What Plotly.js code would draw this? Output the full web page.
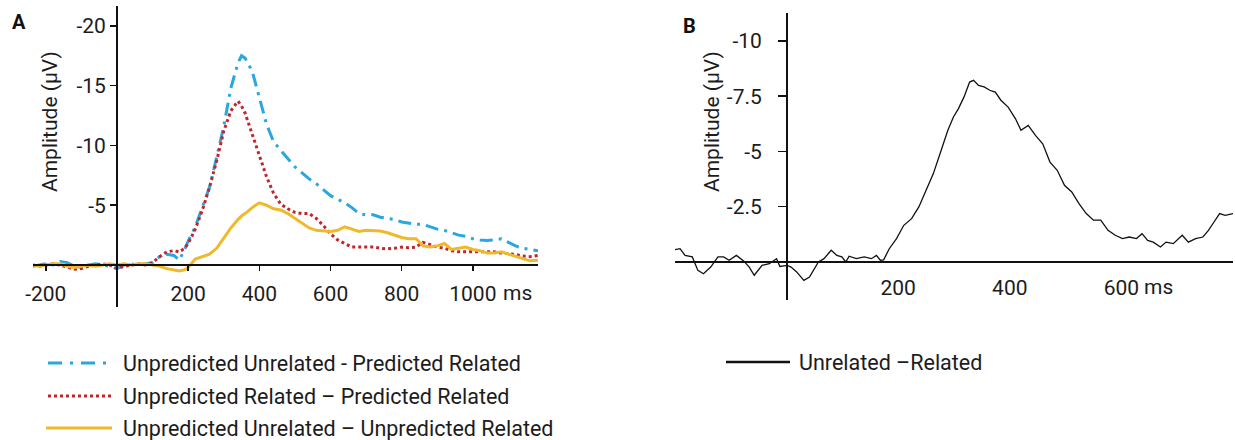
<!DOCTYPE html>
<html>
<head>
<meta charset="utf-8">
<script src="https://cdn.plot.ly/plotly-3.0.1.min.js"></script>
<style>html,body{margin:0;padding:0;background:#fff;}#chart{width:1235px;height:440px;}</style>
</head>
<body>
<div id="chart"></div>
<script>
// ---------- Panel A data (time in ms, amplitude in µV) ----------
const timeA = [-236,-220,-200,-180,-160,-140,-120,-100,-80,-60,-40,-20,0,20,40,60,80,100,120,140,160,175,190,200,220,240,260,280,300,320,340,350,360,380,400,420,440,460,480,500,520,540,560,580,600,620,640,660,680,700,720,740,760,780,800,820,840,860,880,900,920,940,960,980,1000,1020,1040,1060,1080,1100,1120,1140,1160,1183];
const unrelMinusPredRel = [0.1,0.0,-0.1,0.0,-0.3,-0.2,0.1,0.2,0.0,-0.1,0.0,0.1,0.3,0.0,-0.1,0.0,-0.1,-0.2,-0.7,-0.9,-0.8,-0.4,-1.3,-2.0,-3.2,-4.8,-6.5,-9.0,-11.6,-14.8,-16.9,-17.5,-17.3,-16.2,-14.1,-11.8,-10.3,-9.6,-8.9,-8.2,-7.7,-7.2,-6.8,-6.3,-5.8,-5.5,-5.2,-4.8,-4.3,-4.2,-4.2,-4.0,-3.9,-3.8,-3.6,-3.5,-3.4,-3.4,-3.2,-3.0,-2.9,-2.7,-2.5,-2.4,-2.2,-2.1,-2.05,-2.1,-2.2,-1.9,-1.6,-1.4,-1.3,-1.2];
const relMinusPredRel = [0.0,0.1,0.0,-0.1,0.0,0.2,0.35,0.3,0.1,0.0,-0.1,0.0,0.3,0.1,0.0,-0.1,0.0,-0.2,-0.7,-1.1,-1.2,-1.1,-1.4,-1.8,-3.0,-4.6,-6.5,-8.7,-11.2,-12.9,-13.7,-13.3,-12.7,-10.9,-9.1,-7.4,-6.0,-5.1,-4.7,-4.4,-4.3,-4.3,-3.9,-3.3,-2.6,-2.1,-1.8,-1.5,-1.5,-1.5,-1.5,-1.4,-1.35,-1.4,-1.5,-1.45,-1.5,-1.9,-1.7,-1.5,-1.4,-1.2,-1.1,-1.1,-1.1,-1.05,-1.1,-1.1,-1.0,-0.95,-0.9,-0.75,-0.7,-0.8];
const unrelMinusUnpRel = [0.0,0.1,0.0,-0.1,-0.1,0.1,0.2,0.1,0.0,0.1,0.0,-0.1,0.0,-0.1,0.0,-0.1,-0.1,0.0,0.1,0.3,0.45,0.5,0.4,0.2,-0.5,-0.7,-0.9,-1.4,-2.3,-3.1,-3.8,-4.1,-4.3,-4.8,-5.2,-5.0,-4.7,-4.6,-4.3,-3.9,-3.5,-3.1,-2.9,-2.85,-2.8,-2.9,-3.2,-3.0,-2.8,-2.9,-2.9,-2.85,-2.7,-2.5,-2.3,-2.2,-2.2,-1.6,-1.5,-1.6,-1.8,-1.3,-1.4,-1.5,-1.3,-1.2,-1.0,-1.0,-1.1,-0.9,-0.7,-0.5,-0.35,-0.4];
const namesA = ["Unpredicted Unrelated - Predicted Related","Unpredicted Related \u2013 Predicted Related","Unpredicted Unrelated \u2013 Unpredicted Related"];
const xTickValsA = [-200,200,400,600,800,1000];
const xTickTextA = ["-200","200","400","600","800","1000"];
const yTickValsA = [-20,-15,-10,-5];
const yTickTextA = ["-20","-15","-10","-5"];

// ---------- Panel B data ----------
const timeB = [-200,-191,-182,-169,-159,-149,-136,-123,-113,-103,-90,-77,-67,-58,-44,-31,-18,-12,1,8,18,31,41,57,67,80,90,99,106,112,125,139,152,161,168,174,184,197,210,224,237,250,263,276,289,299,308,318,328,335,344,354,364,374,384,397,410,420,433,446,459,472,485,498,511,524,537,550,563,576,589,602,614,627,637,647,657,670,680,693,709,720,733,746,756,766,776,786,800];
const unrelMinusRel = [-0.56,-0.6,-0.3,-0.23,0.38,0.53,0.23,-0.23,-0.23,-0.08,-0.3,-0.05,0.23,0.6,0.15,0.08,-0.15,0.2,0.15,0.23,0.45,0.83,0.68,0,-0.15,-0.53,-0.3,-0.23,0,-0.26,-0.15,-0.23,-0.15,-0.3,-0.08,-0.1,-0.6,-1.06,-1.66,-1.96,-2.49,-3.24,-4.0,-4.98,-5.96,-6.56,-6.94,-7.47,-8.14,-8.22,-7.99,-7.92,-7.77,-7.69,-7.32,-7.01,-6.49,-5.96,-6.18,-5.73,-5.35,-4.52,-4.15,-3.47,-3.17,-2.64,-2.19,-1.89,-1.89,-1.43,-1.21,-1.06,-1.13,-1.06,-1.28,-0.98,-0.9,-0.68,-0.9,-0.83,-1.21,-0.9,-1.06,-1.13,-1.43,-1.81,-2.19,-2.11,-2.19];
const nameB = "Unrelated \u2013Related";
const xTickValsB = [200,400,600];
const xTickTextB = ["200","400","600"];
const yTickValsB = [-10,-7.5,-5,-2.5];
const yTickTextB = ["-10","-7.5","-5","-2.5"];

// ---------- styling ----------
const W = 1235, H = 440;
const px = v => v / W;
const py = v => 1 - v / H;
const BLUE = '#29a7df', RED = '#c0262d', GOLD = '#efb92b', INK = '#1c1c1c';
const FONT = 'Roboto, "Open Sans", sans-serif';
const blueDash = '13px,6px,3px,6px';

const traces = [
  {x: timeA, y: unrelMinusPredRel, name: namesA[0], type: 'scatter', mode: 'lines', xaxis: 'x', yaxis: 'y', line: {color: BLUE, width: 3, dash: blueDash}},
  {x: timeA, y: relMinusPredRel, name: namesA[1], type: 'scatter', mode: 'lines', xaxis: 'x', yaxis: 'y', line: {color: RED, width: 3, dash: 'dot'}},
  {x: timeA, y: unrelMinusUnpRel, name: namesA[2], type: 'scatter', mode: 'lines', xaxis: 'x', yaxis: 'y', line: {color: GOLD, width: 3}},
  {x: timeB, y: unrelMinusRel, name: nameB, type: 'scatter', mode: 'lines', xaxis: 'x2', yaxis: 'y2', line: {color: '#111', width: 1.3}}
];

const axBase = {showgrid: false, zeroline: false, showline: true, linecolor: '#111', linewidth: 2,
  tickcolor: '#111', tickwidth: 1.5, tickfont: {family: FONT, size: 21, color: INK}, anchor: 'free', fixedrange: true};

function note(text, x, y, extra) {
  return Object.assign({text: text, x: px(x), y: py(y), xref: 'paper', yref: 'paper', showarrow: false,
    xanchor: 'center', yanchor: 'middle'}, extra || {});
}

const layout = {
  width: W, height: H, margin: {l: 0, r: 0, t: 0, b: 0},
  paper_bgcolor: '#ffffff', plot_bgcolor: 'rgba(0,0,0,0)', showlegend: false,
  font: {family: FONT, size: 21, color: INK},
  xaxis: Object.assign({}, axBase, {domain: [px(33), px(538)], range: [-236, 1183], position: py(265),
    ticks: 'outside', ticklen: 5, ticklabelstandoff: 5, tickvals: xTickValsA, ticktext: xTickTextA}),
  yaxis: Object.assign({}, axBase, {domain: [py(307), py(6)], range: [3.51, -21.66], position: px(117),
    ticks: 'outside', ticklen: 6, tickvals: yTickValsA, ticktext: yTickTextA}),
  xaxis2: Object.assign({}, axBase, {domain: [px(675), px(1233)], range: [-200, 800], position: py(262),
    ticks: '', ticklabelstandoff: 7, tickvals: xTickValsB, ticktext: xTickTextB}),
  yaxis2: Object.assign({}, axBase, {domain: [py(300), py(12.7)], range: [1.72, -11.28], position: px(787),
    ticks: 'outside', ticklen: 8, ticklabelstandoff: 12, tickvals: yTickValsB, ticktext: yTickTextB}),
  annotations: [
    note('<b>A</b>', 19, 22, {font: {size: 20, color: '#111'}}),
    note('<b>B</b>', 689, 26, {font: {size: 20, color: '#111'}}),
    note('Amplitude (\u03bcV)', 50, 122, {textangle: -90}),
    note('Amplitude (\u03bcV)', 712, 122, {textangle: -90}),
    note('ms', 501, 293, {xanchor: 'left'}),
    note('ms', 1142, 287, {xanchor: 'left'}),
    note(namesA[0], 121, 363, {xanchor: 'left', font: {size: 21.5}}),
    note(namesA[1], 121, 396, {xanchor: 'left', font: {size: 21.5}}),
    note(namesA[2], 121, 428, {xanchor: 'left', font: {size: 21.5}}),
    note(nameB, 797, 362, {xanchor: 'left', font: {size: 21.5}})
  ],
  shapes: [
    {type: 'line', xref: 'paper', yref: 'paper', x0: px(48), x1: px(112), y0: py(363), y1: py(363), line: {color: BLUE, width: 3, dash: '14px,8px,3px,8px'}},
    {type: 'line', xref: 'paper', yref: 'paper', x0: px(48), x1: px(112), y0: py(396), y1: py(396), line: {color: RED, width: 3, dash: 'dot'}},
    {type: 'line', xref: 'paper', yref: 'paper', x0: px(46), x1: px(112), y0: py(428), y1: py(428), line: {color: GOLD, width: 3}},
    {type: 'line', xref: 'paper', yref: 'paper', x0: px(726), x1: px(790), y0: py(362), y1: py(362), line: {color: '#111', width: 2.5}}
  ]
};

Plotly.newPlot('chart', traces, layout, {staticPlot: true, displayModeBar: false});
</script>
</body>
</html>
